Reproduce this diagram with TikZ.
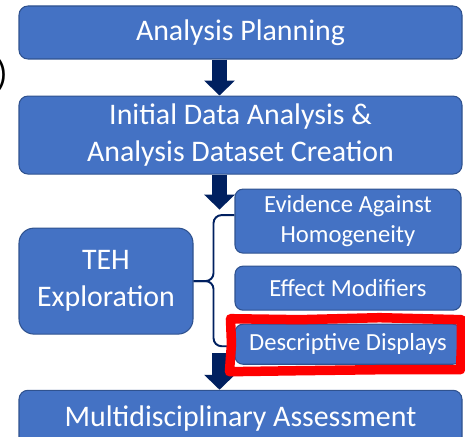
\documentclass[tikz,border=0pt]{standalone}
\usepackage{fontspec}
\setmainfont{Carlito}
\usetikzlibrary{arrows.meta, positioning, calc}
\definecolor{boxblue}{HTML}{4472C4}
\definecolor{boxline}{HTML}{2F528F}
\definecolor{arrownavy}{HTML}{002060}

\begin{document}
\begin{tikzpicture}[
    stage/.style ={draw=boxline, line width=0.6pt, fill=boxblue, text=white,
                   rounded corners=1.8mm, align=center, inner sep=2pt,
                   minimum width=88.6mm, font=\fontsize{17}{21}\selectfont},
    part/.style  ={draw=boxline, line width=0.6pt, fill=boxblue, text=white,
                   rounded corners=1.6mm, align=center, inner sep=2pt,
                   minimum width=45.2mm, font=\fontsize{14}{17}\selectfont},
    flow/.style  ={-{Triangle[width=6mm,length=3mm]}, line width=3mm,
                   draw=arrownavy},
    brace/.style ={draw=arrownavy, line width=1.1pt, rounded corners=1.6mm},
    highlight/.style={draw=red, line width=1.9mm, line join=round},
]
\useasboundingbox (0,0) rectangle (93mm,-87.2mm);
% cut-off label at the left edge
\node[anchor=east, inner sep=0pt, font=\fontsize{20}{24}\selectfont] (cut)
  at (1.6mm,-15mm) {)};
\node[stage, minimum height=10.6mm] (plan) at (48.1mm,-6.5mm) {Analysis Planning};
\node[stage, minimum height=15.6mm, below=7.2mm of plan] (ida)
  {Initial Data Analysis \&\\Analysis Dataset Creation};
\node[part, minimum height=12.8mm, below left=2.8mm and 0.2mm of ida.south east] (evid)
  {Evidence Against\\Homogeneity};
\node[part, minimum height=8.8mm, below=2.4mm of evid] (effm) {Effect Modifiers};
\node[part, minimum height=8mm, below=2.6mm of effm] (desc) {Descriptive Displays};
\node[stage, minimum width=34.8mm, minimum height=21.2mm, rounded corners=3mm,
      below right=10.6mm and 0mm of ida.south west] (teh) {TEH\\Exploration};
\coordinate (mtop) at (desc.south -| ida.south);
\node[stage, minimum height=11.2mm, below=5mm of mtop] (multi)
  {Multidisciplinary Assessment};
% arrows between the stages
\coordinate (tehin) at ([xshift=-4.2mm, yshift=-7mm]ida.south);
\coordinate (tehout) at ([xshift=-4.2mm, yshift=7.4mm]multi.north);
\draw[flow] ([xshift=-4.2mm]plan.south) -- ([xshift=-4.2mm]ida.north);
\draw[flow] ([xshift=-4.2mm]ida.south) -- (tehin);
\draw[flow] (tehout) -- ([xshift=-4.2mm]multi.north);
% brace
\coordinate (bx) at ([xshift=4mm]teh.east);
\draw[brace] ([yshift=1.2mm]evid.west) -| (bx) -- (teh.east);
\draw[brace] ([xshift=-1.4mm, yshift=-0.4mm]desc.west) -| (bx) -- (teh.east);
% hand-drawn mark
\draw[highlight, shift={(desc.north west)}]
  (-0.8mm,1mm) -- (13mm,0.8mm) -- (29mm,1.2mm) -- (45.4mm,0.8mm)
  -- (45.4mm,-4mm) -- (45.2mm,-9.2mm) -- (29mm,-9.2mm) -- (13mm,-9.4mm)
  -- (-1mm,-9.6mm) -- (-0.6mm,-4mm) -- cycle;
\end{tikzpicture}
\end{document}
